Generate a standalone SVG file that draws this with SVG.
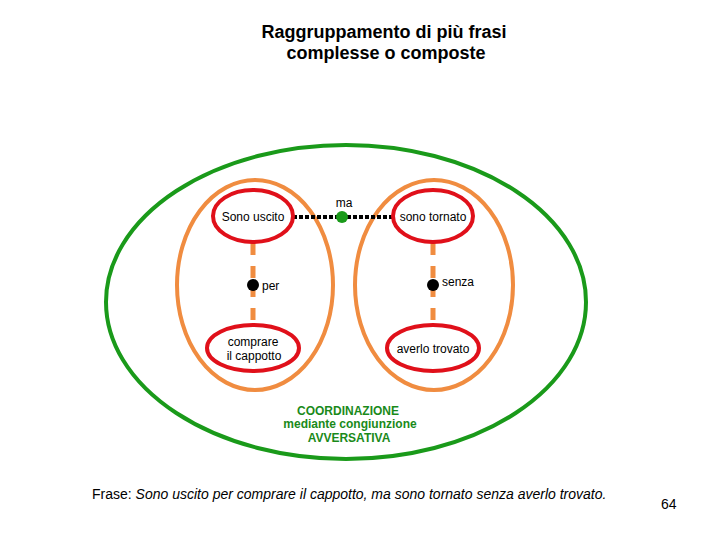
<svg xmlns="http://www.w3.org/2000/svg" width="720" height="540" viewBox="0 0 720 540">
<style>
text{font-family:"Liberation Sans",Arial,sans-serif;fill:#000}
.green{fill:none;stroke:#1a9a1a;stroke-width:4}
.orange{fill:none;stroke:#f08c40;stroke-width:4}
.red{fill:#fff;stroke:#e0101a;stroke-width:4}
.n{font-size:12px;text-anchor:middle}
.dash{stroke:#f08c40;stroke-width:5;stroke-dasharray:12 11}
.dot{stroke:#000;stroke-width:4;stroke-dasharray:4 2}
.g{font-size:12px;font-weight:bold;fill:#1a8a1a;text-anchor:middle}
.t{font-size:18px;font-weight:bold;text-anchor:middle}
</style>
<rect width="720" height="540" fill="#fff"/>
<g id="title"><text class="t" x="384" y="38">Raggruppamento di più frasi</text><text class="t" x="386" y="59">complesse o composte</text></g>
<g id="outer"><ellipse class="green" cx="346" cy="302" rx="240" ry="157"/></g>
<g id="left-group"><ellipse class="orange" cx="255" cy="285" rx="78" ry="105"/></g>
<g id="right-group"><ellipse class="orange" cx="434" cy="285" rx="79" ry="105"/></g>
<g id="connectors">
<line class="dash" x1="253" y1="243" x2="253" y2="285"/>
<line class="dash" x1="253" y1="285" x2="253" y2="326"/>
<line class="dash" x1="433" y1="243" x2="433" y2="285"/>
<line class="dash" x1="433" y1="285" x2="433" y2="326"/>
<line class="dot" x1="293" y1="217" x2="393" y2="217"/>
</g>
<g id="sono-uscito"><ellipse class="red" cx="253" cy="216" rx="40" ry="26"/><text class="n" x="253" y="221">Sono uscito</text></g>
<g id="comprare"><ellipse class="red" cx="253" cy="348" rx="46" ry="23"/><text class="n" x="253" y="346">comprare</text><text class="n" x="254" y="360">il cappotto</text></g>
<g id="sono-tornato"><ellipse class="red" cx="433" cy="216" rx="40" ry="26"/><text class="n" x="433" y="221">sono tornato</text></g>
<g id="averlo-trovato"><ellipse class="red" cx="433" cy="348" rx="46" ry="23"/><text class="n" x="433" y="353">averlo trovato</text></g>
<g id="ma"><circle cx="342" cy="217" r="6" fill="#1a9a1a"/><text class="n" x="344" y="207">ma</text></g>
<g id="per"><circle cx="253" cy="285" r="6" fill="#000"/><text x="262" y="290" font-size="12">per</text></g>
<g id="senza"><circle cx="433" cy="285" r="6" fill="#000"/><text x="442" y="286" font-size="12">senza</text></g>
<g id="coord"><text class="g" x="348" y="415">COORDINAZIONE</text><text class="g" x="350" y="428">mediante congiunzione</text><text class="g" x="349" y="442">AVVERSATIVA</text></g>
<g id="footer"><text x="92" y="499" font-size="14">Frase: <tspan font-style="italic">Sono uscito per comprare il cappotto, ma sono tornato senza averlo trovato.</tspan></text><text x="661" y="509" font-size="14">64</text></g>
</svg>
